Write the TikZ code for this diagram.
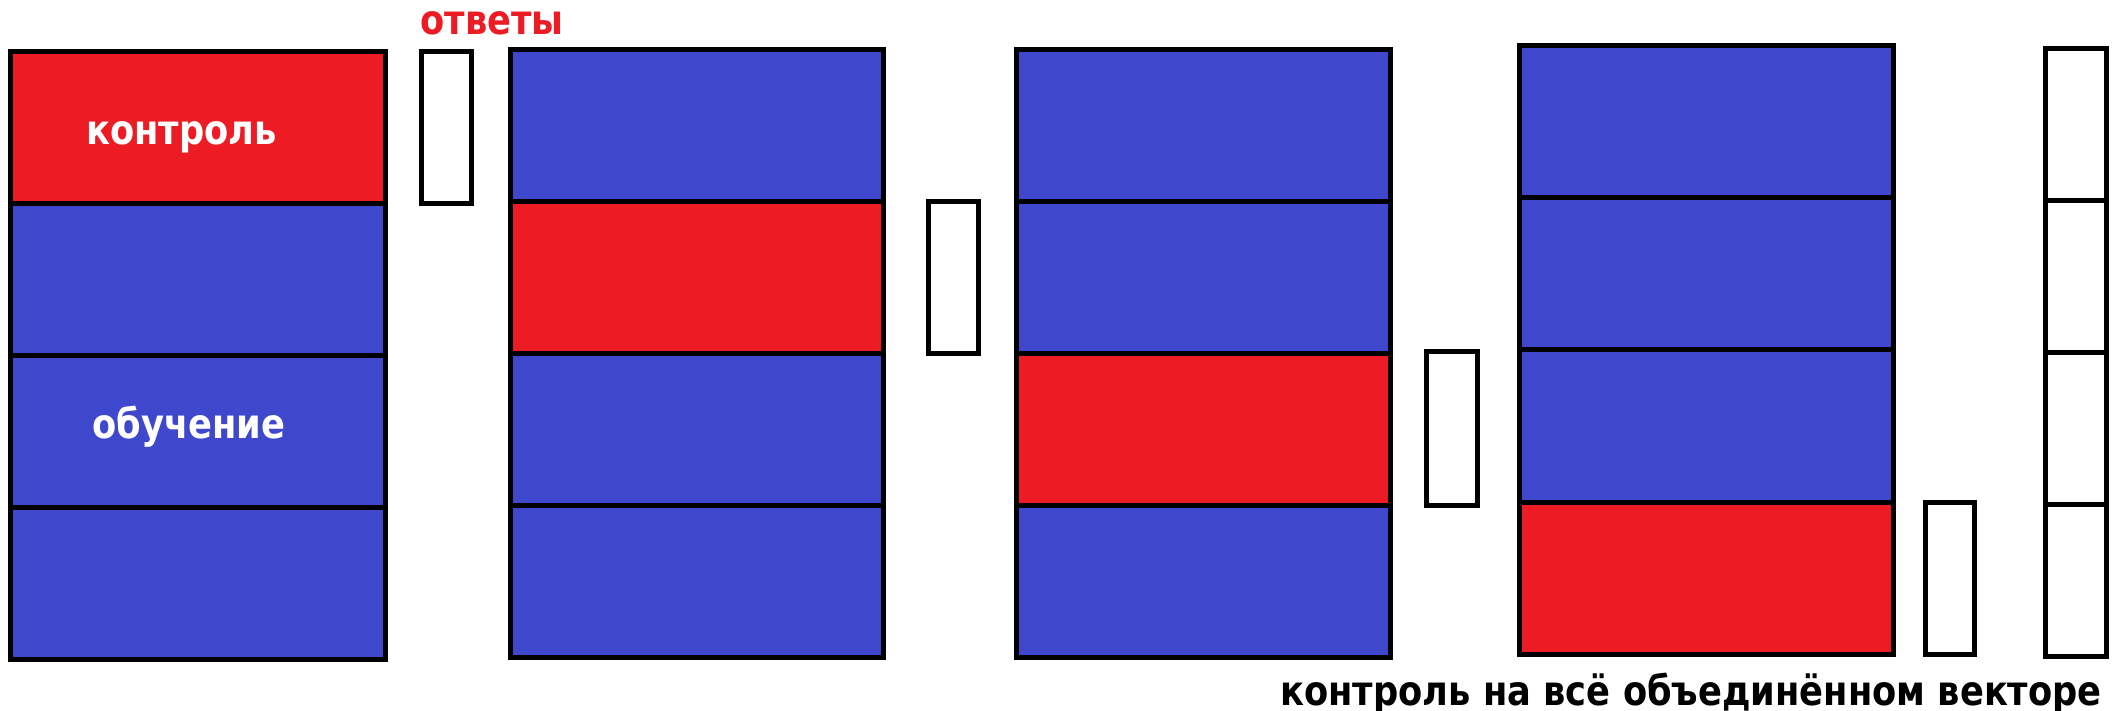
\documentclass[tikz,border=0pt]{standalone}
\usepackage{fontspec}
\setmainfont{DejaVu Sans}[FakeStretch=0.86]
\definecolor{fold}{HTML}{ED1C24}
\definecolor{train}{HTML}{3F48CC}

\begin{document}
\begin{tikzpicture}[
  x=0.5pt, y=-0.5pt,
  line join=miter,
  every node/.style={font=\bfseries\fontsize{20.5}{24}\selectfont, inner sep=0pt, anchor=base west},
  cell/.style={draw=black, line width=2.75pt},
  test/.style={cell, fill=fold},
  learn/.style={cell, fill=train},
  answer/.style={cell, fill=white},
]
\useasboundingbox (0,0) rectangle (2121,711);
% first split
\draw[test]  (10.5,51.5) rectangle (385.5,203.5);
\draw[learn] (10.5,203.5) rectangle (385.5,355.5);
\draw[learn] (10.5,355.5) rectangle (385.5,507.5);
\draw[learn] (10.5,507.5) rectangle (385.5,659.5);
\draw[answer] (421.5,51.5) rectangle (471.5,203.5);
\node[text=white] (ctrl) at (86,145) {контроль};
\node[text=white] (learn) at (92,438) {обучение};
\node[text=fold] (answers) at (420,35) {ответы};
% second split
\draw[learn] (510.5,49.5) rectangle (883.5,201.5);
\draw[test]  (510.5,201.5) rectangle (883.5,353.5);
\draw[learn] (510.5,353.5) rectangle (883.5,505.5);
\draw[learn] (510.5,505.5) rectangle (883.5,657.5);
\draw[answer] (928.5,201.5) rectangle (978.5,353.5);
% third split
\draw[learn] (1016.5,49.5) rectangle (1390.5,201.5);
\draw[learn] (1016.5,201.5) rectangle (1390.5,353.5);
\draw[test]  (1016.5,353.5) rectangle (1390.5,505.5);
\draw[learn] (1016.5,505.5) rectangle (1390.5,657.5);
\draw[answer] (1426.5,351.5) rectangle (1477.5,505.5);
% fourth split
\draw[learn] (1519.5,45.5) rectangle (1893.5,197.5);
\draw[learn] (1519.5,197.5) rectangle (1893.5,349.5);
\draw[learn] (1519.5,349.5) rectangle (1893.5,502.5);
\draw[test]  (1519.5,502.5) rectangle (1893.5,654.5);
\draw[answer] (1925.5,502.5) rectangle (1974.5,654.5);
% joined answers
\draw[answer] (2045.5,48.5) rectangle (2106.5,200.5);
\draw[answer] (2045.5,200.5) rectangle (2106.5,352.5);
\draw[answer] (2045.5,352.5) rectangle (2106.5,504.5);
\draw[answer] (2045.5,504.5) rectangle (2106.5,656.5);
\node (total) at (1280,705) {контроль на всё объединённом векторе};
\end{tikzpicture}
\end{document}
